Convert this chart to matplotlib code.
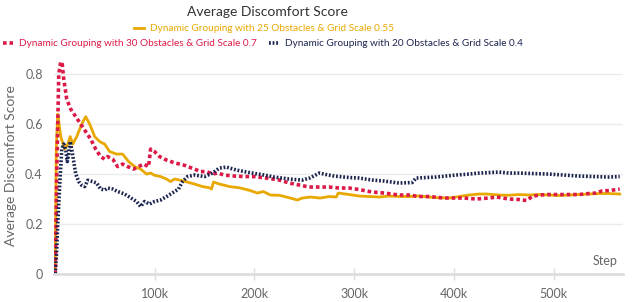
import numpy as np
import matplotlib
matplotlib.use("Agg")
import matplotlib.pyplot as plt

plt.rcParams['font.family'] = ['Lato', 'DejaVu Sans']

# steps in thousands
steps_25 = [0.5, 1.5, 3, 6, 10, 13, 15.5, 18, 22, 27, 31, 35, 40, 45, 50, 55, 62, 68, 74, 80, 86,
            92, 96, 100, 106, 112, 116, 120, 125, 131, 140, 148, 155, 157, 159, 165, 175, 185, 195,
            203, 209, 216, 225, 235, 243, 248, 256, 266, 275, 282, 284, 295, 305, 315, 325, 335,
            345, 355, 365, 375, 385, 395, 405, 415, 425, 433, 445, 455, 465, 475, 485, 495, 505,
            515, 525, 535, 545, 555, 566]
score_25 = [0.02, 0.5, 0.64, 0.55, 0.5, 0.52, 0.55, 0.52, 0.55, 0.6, 0.63, 0.6, 0.55, 0.53, 0.52,
            0.49, 0.48, 0.48, 0.45, 0.43, 0.42, 0.4, 0.404, 0.395, 0.39, 0.38, 0.37, 0.38, 0.376,
            0.37, 0.36, 0.35, 0.345, 0.34, 0.368, 0.36, 0.35, 0.345, 0.335, 0.324, 0.33, 0.316,
            0.315, 0.305, 0.296, 0.304, 0.308, 0.304, 0.31, 0.308, 0.324, 0.318, 0.312, 0.31,
            0.308, 0.312, 0.31, 0.31, 0.312, 0.308, 0.305, 0.304, 0.31, 0.316, 0.32, 0.32, 0.316,
            0.315, 0.318, 0.316, 0.318, 0.316, 0.314, 0.316, 0.318, 0.32, 0.322, 0.322, 0.32]

steps_30 = [0.5, 2, 4, 6, 7.5, 9, 12, 16, 21, 26, 31, 36, 41, 46, 50, 53, 58, 63, 68, 73, 79, 84,
            89, 94, 96, 100, 105, 112, 120, 130, 140, 146, 152, 158, 163, 170, 180, 190, 200, 212,
            225, 235, 245, 255, 265, 275, 285, 295, 305, 318, 330, 345, 355, 365, 375, 390, 400,
            410, 422, 435, 443, 455, 465, 473, 478, 485, 495, 505, 515, 525, 535, 542, 548, 556, 566]
score_30 = [0.0, 0.4, 0.8, 0.85, 0.84, 0.78, 0.7, 0.66, 0.63, 0.6, 0.57, 0.54, 0.5, 0.47, 0.46,
            0.47, 0.46, 0.43, 0.44, 0.43, 0.42, 0.43, 0.44, 0.43, 0.5, 0.49, 0.47, 0.456, 0.445,
            0.435, 0.42, 0.41, 0.41, 0.4, 0.404, 0.396, 0.392, 0.39, 0.39, 0.384, 0.376, 0.364,
            0.356, 0.348, 0.348, 0.348, 0.344, 0.344, 0.338, 0.328, 0.324, 0.316, 0.316, 0.31,
            0.31, 0.304, 0.304, 0.304, 0.3, 0.304, 0.308, 0.3, 0.298, 0.294, 0.31, 0.316, 0.318,
            0.318, 0.318, 0.318, 0.322, 0.324, 0.332, 0.334, 0.34]

steps_20 = [0.5, 2, 3, 5, 7, 9, 11, 12.5, 14, 15.5, 17, 19, 21, 24, 27, 30, 33, 38, 42, 46, 50,
            53, 58, 63, 70, 76, 82, 86, 88, 90, 95, 100, 106, 112, 118, 124, 128, 133, 140, 150,
            158, 165, 172, 182, 195, 210, 220, 235, 248, 256, 265, 272, 280, 295, 305, 318, 330,
            345, 358, 362, 372, 382, 392, 402, 415, 425, 435, 445, 455, 465, 480, 495, 510, 525,
            540, 555, 566]
score_20 = [0.0, 0.1, 0.2, 0.36, 0.5, 0.52, 0.5, 0.45, 0.48, 0.53, 0.5, 0.45, 0.4, 0.37, 0.355,
            0.35, 0.375, 0.37, 0.364, 0.34, 0.336, 0.344, 0.34, 0.33, 0.32, 0.305, 0.29, 0.27,
            0.28, 0.29, 0.28, 0.29, 0.296, 0.31, 0.325, 0.34, 0.37, 0.39, 0.396, 0.39, 0.404,
            0.424, 0.428, 0.416, 0.406, 0.396, 0.388, 0.38, 0.376, 0.385, 0.404, 0.398, 0.392,
            0.386, 0.384, 0.376, 0.372, 0.364, 0.366, 0.384, 0.386, 0.388, 0.392, 0.396, 0.4,
            0.404, 0.406, 0.408, 0.404, 0.404, 0.402, 0.4, 0.396, 0.392, 0.39, 0.388, 0.39]

labels = ["Dynamic Grouping with 25 Obstacles & Grid Scale 0.55",
          "Dynamic Grouping with 30 Obstacles & Grid Scale 0.7",
          "Dynamic Grouping with 20 Obstacles & Grid Scale 0.4"]
colors = ["#E8A800", "#DC1A48", "#1C2550"]

fig = plt.figure(figsize=(6.4, 3.02), dpi=100)
ax = fig.add_axes([0.084, 0.093, 0.889, 0.715])

ax.plot(np.array(steps_25) * 1000, score_25, color=colors[0], lw=2.0, label=labels[0],
        solid_joinstyle='round')
ax.plot(np.array(steps_30) * 1000, score_30, color=colors[1], lw=2.6, dashes=(1.0, 0.8),
        label=labels[1])
ax.plot(np.array(steps_20) * 1000, score_20, color=colors[2], lw=2.6, dashes=(0.5, 0.5),
        label=labels[2])

ax.set_xlim(-1000, 569000)
ax.set_ylim(0, 0.865)
ax.set_xticks([100000, 200000, 300000, 400000, 500000])
ax.set_xticklabels(["100k", "200k", "300k", "400k", "500k"])
ax.set_yticks([0, 0.2, 0.4, 0.6, 0.8])
ax.set_yticklabels(["0", "0.2", "0.4", "0.6", "0.8"])
ax.tick_params(axis='x', direction='inout', length=8, width=1, color='#dddddd',
               labelcolor='#666666', labelsize=9, pad=6)
ax.tick_params(axis='y', length=0, labelcolor='#666666', labelsize=9, pad=8)
ax.grid(axis='y', color='#ebebeb', lw=1)
ax.set_axisbelow(True)
for s in ['top', 'right', 'left']:
    ax.spines[s].set_visible(False)
ax.spines['bottom'].set_color('#dddddd')
ax.spines['bottom'].set_linewidth(2)

ax.set_ylabel("Average Discomfort Score", color='#666666', fontsize=10, labelpad=6)
ax.text(0.99, 0.03, "Step", transform=ax.transAxes, ha='right', va='bottom',
        color='#666666', fontsize=9)

fig.text(0.418, 0.96, "Average Discomfort Score", ha='center', va='center',
         fontsize=10, color='#333333')

h = ax.get_legend_handles_labels()[0]
leg1 = fig.legend([h[0]], [labels[0]], loc='center', bbox_to_anchor=(0.413, 0.905),
                  frameon=False, fontsize=7.2, handlelength=1.0, handletextpad=0.6,
                  labelcolor='linecolor', borderpad=0)
leg2 = fig.legend([h[1], h[2]], [labels[1], labels[2]], loc='center', ncol=2,
                  bbox_to_anchor=(0.411, 0.855), frameon=False, fontsize=7.2,
                  handlelength=1.0, handletextpad=0.6, columnspacing=1.2,
                  labelcolor='linecolor', borderpad=0)

fig.savefig("out.png", dpi=100)
